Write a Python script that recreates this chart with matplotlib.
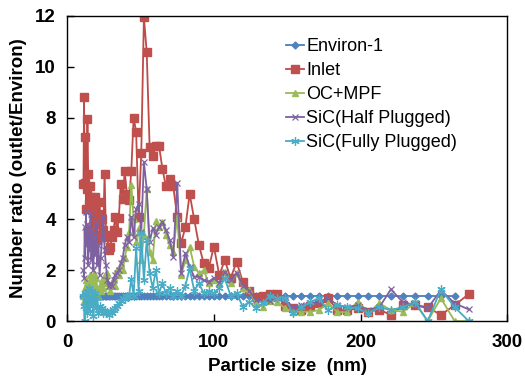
import matplotlib
matplotlib.use('Agg')
import matplotlib.pyplot as plt

plt.rcParams['font.family'] = ['Liberation Sans', 'DejaVu Sans']

# particle size channels (nm)
sizes = [11.1, 11.5, 11.9, 12.3, 12.8, 13.3, 13.8, 14.3, 14.9, 15.4,
         16.0, 16.5, 17.2, 17.8, 18.4, 19.1, 19.8, 20.5, 21.3, 22.1,
         22.9, 23.7, 24.6, 25.5, 26.4, 27.4, 28.4, 29.4, 30.5, 31.6,
         32.8, 34.0, 35.2, 36.5, 37.9, 39.2, 40.7, 42.2, 43.7, 45.3,
         47.0, 48.7, 50.5, 52.3, 54.2, 56.2, 58.3, 60.4, 62.6, 64.9,
         67.3, 69.8, 72.3, 75.0, 77.7, 80.6, 83.5, 86.6, 89.8, 93.1,
         96.5, 100.0, 103.7, 107.5, 111.4, 115.5, 119.7, 124.1, 128.6, 133.2,
         138.2, 143.3, 148.6, 154.0, 159.6, 165.5, 171.5, 177.8, 184.3, 191.1,
         198.1, 205.4, 212.9, 220.7, 228.8, 237.2, 245.8, 254.8, 264.2, 273.8]

environ = [1.0] * 89

inlet = [5.4, 8.8, 5.45, 7.25, 4.4, 5.2, 7.95, 5.8, 4.6, 5.3,
         3.6, 4.9, 3.4, 4.5, 3.8, 4.9, 3.9, 3.2, 4.2, 4.7,
         3.4, 4.0, 3.6, 5.8, 3.4, 3.3, 2.8, 2.9, 3.3, 3.6,
         4.1, 3.5, 4.05, 5.4, 4.8, 5.9, 5.0, 4.76, 5.9, 8.0,
         7.45, 4.1, 6.6, 11.95, 10.6, 6.86, 6.5, 6.9, 6.9, 6.0,
         5.3, 5.6, 5.3, 4.1, 3.06, 3.7, 5.0, 4.0, 3.0, 2.27,
         2.08, 2.93, 1.81, 2.4, 1.68, 2.33, 1.55, 1.2, 0.96, 1.0,
         1.05, 1.05, 0.6, 0.5, 0.43, 0.6, 0.7, 0.9, 0.43, 0.43,
         0.5, 0.37, 0.45, 0.24, 0.63, 0.63, 0.55, 0.24, 0.63, 1.06]

oc_mpf = [1.0, 0.8, 1.3, 1.0, 1.6, 1.2, 1.5, 1.1, 1.4, 1.8,
          1.3, 1.6, 1.2, 1.5, 1.9, 1.4, 1.7, 1.3, 1.0, 1.4,
          1.2, 1.6, 1.3, 1.8, 1.5, 1.9, 1.4, 1.2, 1.5, 1.7,
          1.4, 2.0, 1.8, 2.2, 2.0, 2.5, 2.9, 3.5, 5.35, 4.0,
          3.1, 3.65, 2.4, 3.4, 5.2, 2.7, 2.4, 3.95, 3.7, 3.9,
          3.4, 3.0, 2.7, 4.1, 1.8, 2.4, 2.93, 2.14, 1.88, 2.0,
          1.48, 1.6, 1.48, 1.94, 1.48, 1.9, 1.3, 1.22, 0.7, 0.57,
          0.8, 0.76, 0.5, 0.37, 0.37, 0.37, 0.43, 0.7, 0.35, 0.35,
          0.77, 0.35, 0.7, 0.43, 0.37, 0.7, 0.0, 0.9, 0.0, 0.0]

sic_half = [2.0, 1.7, 3.7, 2.5, 4.3, 3.0, 3.8, 2.2, 3.5, 2.8,
            4.2, 2.4, 3.6, 2.0, 3.3, 2.6, 3.9, 2.2, 3.0, 1.8,
            2.5, 3.2, 4.1, 2.8, 2.2, 1.6, 1.4, 1.5, 1.4, 1.6,
            1.8, 1.9, 2.0, 2.3, 2.5, 3.0, 3.3, 3.1, 4.1, 3.3,
            4.4, 4.6, 3.5, 6.27, 5.2, 3.1, 3.65, 3.4, 3.7, 3.9,
            3.6, 3.2, 2.53, 5.42, 1.88, 2.67, 2.14, 1.74, 1.74, 1.6,
            1.55, 1.7, 1.5, 1.94, 1.6, 1.9, 1.4, 1.2, 0.83, 0.75,
            0.8, 0.9, 0.83, 0.55, 0.63, 0.7, 0.75, 0.9, 0.63, 0.55,
            0.63, 0.43, 0.55, 1.25, 0.75, 0.63, 0.5, 1.22, 0.7, 0.46]

sic_full = [1.0, 0.6, 0.0, 1.1, 0.5, 1.2, 0.3, 0.9, 1.3, 0.4,
            1.0, 0.7, 1.2, 0.2, 0.8, 1.1, 0.5, 0.9, 0.3, 0.6,
            0.4, 0.5, 0.3, 0.4, 0.3, 0.35, 0.25, 0.4, 0.3, 0.45,
            0.5, 0.6, 0.7, 0.8, 0.9, 0.85, 1.0, 1.0, 1.66, 1.0,
            2.87, 1.2, 3.46, 1.6, 3.2, 1.9, 1.3, 2.0, 1.1, 1.48,
            1.1, 1.3, 1.0, 1.2, 1.0, 1.4, 2.07, 1.2, 1.48, 1.1,
            1.2, 1.1, 1.3, 1.68, 1.0, 1.1, 0.57, 0.76, 0.5, 0.7,
            1.0, 0.9, 0.9, 0.3, 0.55, 0.75, 0.9, 0.43, 0.63, 0.55,
            0.5, 0.3, 0.55, 0.43, 0.55, 0.75, 0.0, 1.25, 0.55, 0.0]

fig = plt.figure(figsize=(5.25, 3.8), dpi=100)
ax = fig.add_axes([0.128, 0.155, 0.838, 0.803])

ax.plot(sizes[:89], environ, color='#4A7EBB', marker='D', markersize=3.5,
        markerfacecolor='#4F81BD', markeredgecolor='#4F81BD', lw=1.3, label='Environ-1')
ax.plot(sizes, inlet, color='#BE4B48', marker='s', markersize=5.5,
        markerfacecolor='#C0504D', markeredgecolor='#C0504D', lw=1.3, label='Inlet')
ax.plot(sizes, oc_mpf, color='#98B954', marker='^', markersize=5,
        markerfacecolor='#9BBB59', markeredgecolor='#9BBB59', lw=1.3, label='OC+MPF')
ax.plot(sizes, sic_half, color='#7D60A0', marker='x', markersize=5,
        markeredgecolor='#8064A2', markeredgewidth=0.9, lw=1.3, label='SiC(Half Plugged)')
ax.plot(sizes, sic_full, color='#46AAC5', marker=(6, 2, 0), markersize=6,
        markeredgecolor='#4BACC6', markeredgewidth=0.9, lw=1.3, label='SiC(Fully Plugged)')

ax.set_xlim(0, 300)
ax.set_ylim(0, 12)
ax.set_xticks([0, 100, 200, 300])
ax.set_yticks([0, 2, 4, 6, 8, 10, 12])
ax.tick_params(direction='in', length=5, width=1, labelsize=13.5)
ax.tick_params(axis='x', pad=9)
ax.tick_params(axis='y', pad=8)
for lab in ax.get_xticklabels() + ax.get_yticklabels():
    lab.set_fontweight('bold')
for s in ax.spines.values():
    s.set_linewidth(1.0)

ax.set_xlabel('Particle size  (nm)', fontsize=13.5, fontweight='bold', labelpad=5)
ax.set_ylabel('Number ratio (outlet/Environ)', fontsize=13.5, fontweight='bold', labelpad=6)

ax.legend(loc='upper left', bbox_to_anchor=(0.48, 0.95), frameon=False,
          fontsize=13, handlelength=1.0, handletextpad=0.15,
          labelspacing=0.38, borderaxespad=0)

fig.savefig('out.png', dpi=100)
